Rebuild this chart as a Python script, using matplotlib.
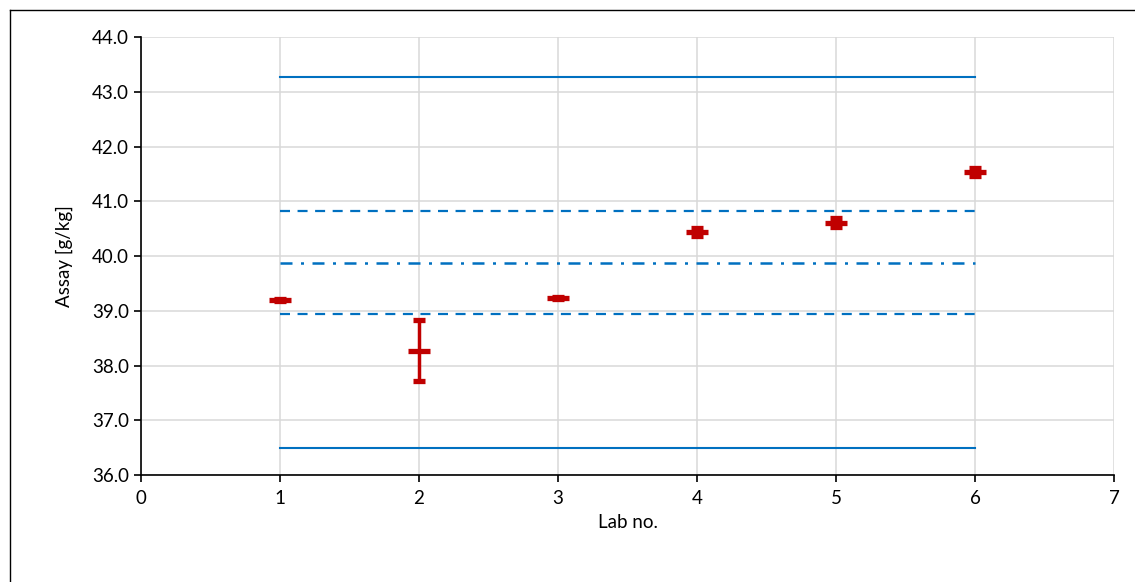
import numpy as np
import matplotlib
matplotlib.use("Agg")
import matplotlib.pyplot as plt
from matplotlib.lines import Line2D

plt.rcParams['font.family'] = ['Lato', 'DejaVu Sans']

# dados
labs = [1, 2, 3, 4, 5, 6]
assay = [39.20, 38.27, 39.24, 40.44, 40.61, 41.53]
err = [0.02, 0.56, 0.02, 0.07, 0.08, 0.07]

# linhas de referência (de lab 1 a lab 6)
line_x = [1, 6]
mean_val = 39.88
warn_low, warn_high = 38.94, 40.82
act_low, act_high = 36.50, 43.27

blue = '#0070C0'
red = '#C00000'

fig = plt.figure(figsize=[11.35, 5.82], dpi=100)
ax = fig.add_axes([0.1242, 0.1838, 0.8573, 0.7526])

ax.plot(line_x, [act_high, act_high], color=blue, lw=1.5, zorder=3)
ax.plot(line_x, [act_low, act_low], color=blue, lw=1.5, zorder=3)
ax.plot(line_x, [warn_high, warn_high], color=blue, lw=1.6, ls=(0, (4.5, 3.4)), zorder=3)
ax.plot(line_x, [warn_low, warn_low], color=blue, lw=1.6, ls=(0, (4.5, 3.4)), zorder=3)
ax.plot(line_x, [mean_val, mean_val], color=blue, lw=1.8, ls=(0, (4.8, 3.4, 1.2, 3.4)), zorder=3)

ax.errorbar(labs, assay, yerr=err, fmt='_', color=red, ecolor=red,
            markersize=16, markeredgewidth=3.8, elinewidth=2.5,
            capsize=4.5, capthick=2.5, zorder=4)

ax.set_xlim(0, 7)
ax.set_ylim(36, 44)
ax.set_xticks(np.arange(0, 8, 1))
ax.set_yticks(np.arange(36, 44.5, 1))
ax.set_yticklabels([f'{v:.1f}' for v in np.arange(36, 44.5, 1)])
ax.grid(True, color='#D9D9D9', lw=1.1, zorder=0)
ax.set_axisbelow(True)

for s in ['top', 'right']:
    ax.spines[s].set_visible(False)
for s in ['left', 'bottom']:
    ax.spines[s].set_color('black')
    ax.spines[s].set_linewidth(1.2)

ax.tick_params(axis='both', direction='out', length=5, width=1.2, labelsize=13.5, colors='black')
ax.tick_params(axis='x', pad=6)
ax.set_xlabel('Lab no.', fontsize=13.5, labelpad=5)
ax.set_ylabel('Assay [g/kg]', fontsize=13.5, labelpad=14)

# moldura da figura
fig.add_artist(Line2D([10/1135, 10/1135], [0, 1 - 10/582], color='black', lw=1, transform=fig.transFigure))
fig.add_artist(Line2D([10/1135, 1], [1 - 10/582, 1 - 10/582], color='black', lw=1, transform=fig.transFigure))

fig.savefig('out.png', dpi=100)
